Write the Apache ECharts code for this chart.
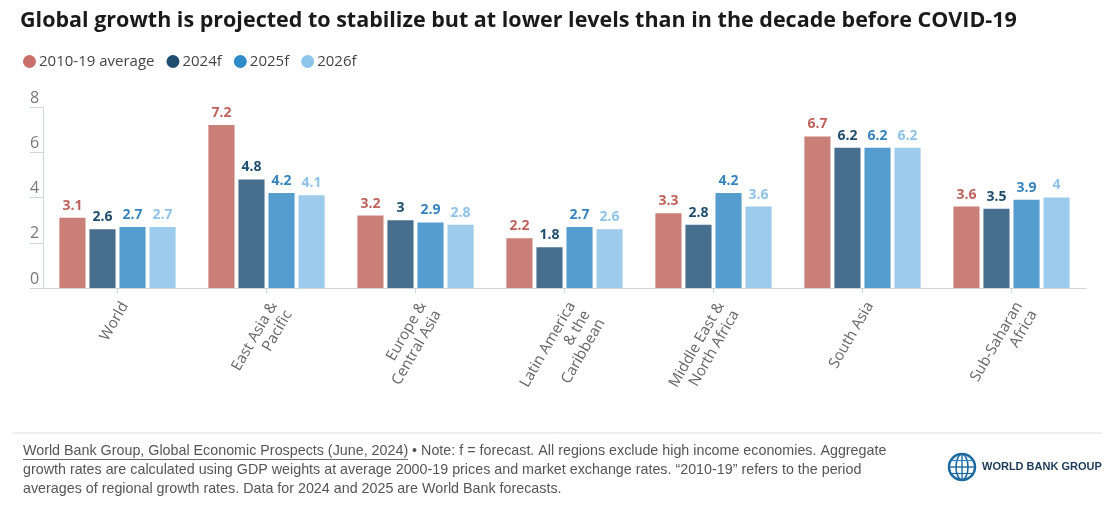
<!DOCTYPE html>
<html>
<head>
<meta charset="utf-8">
<script src="https://cdn.jsdelivr.net/npm/echarts@6/dist/echarts.min.js"></script>
<style>
html,body{margin:0;padding:0;background:#fff;}
#chart{width:1119px;height:526px;}
</style>
</head>
<body>
<div id="chart"></div>
<script>
const categories = ['World', 'East Asia &\nPacific', 'Europe &\nCentral Asia', 'Latin America\n& the\nCaribbean', 'Middle East &\nNorth Africa', 'South Asia', 'Sub-Saharan\nAfrica'];
const seriesNames = ['2010-19 average', '2024f', '2025f', '2026f'];
const avg2010_19 = [3.1, 7.2, 3.2, 2.2, 3.3, 6.7, 3.6];
const f2024 = [2.6, 4.8, 3.0, 1.8, 2.8, 6.2, 3.5];
const f2025 = [2.7, 4.2, 2.9, 2.7, 4.2, 6.2, 3.9];
const f2026 = [2.7, 4.1, 2.8, 2.6, 3.6, 6.2, 4.0];
const yTicks = [0, 2, 4, 6, 8];

const titleText = 'Global growth is projected to stabilize but at lower levels than in the decade before COVID-19';
const sourceText = 'World Bank Group, Global Economic Prospects (June, 2024)';
const noteLines = [
  ' \u2022 Note: f = forecast. All regions exclude high income economies. Aggregate',
  'growth rates are calculated using GDP weights at average 2000-19 prices and market exchange rates. \u201c2010-19\u201d refers to the period',
  'averages of regional growth rates. Data for 2024 and 2025 are World Bank forecasts.'
];

const barColors = ['#c97e77', '#476e8c', '#559dcf', '#9dcbec'];
const labelColors = ['#c0625c', '#1f4e6e', '#3584bd', '#8fc3e8'];
const legendColors = ['#c9706a', '#1f4e70', '#2f8ac8', '#8cc4ea'];
const allData = [avg2010_19, f2024, f2025, f2026];

const footFont = '14.3px "Liberation Sans"';
function textWidth(t, font) {
  const c = document.createElement('canvas').getContext('2d');
  c.font = font;
  return c.measureText(t).width;
}
const srcW = textWidth(sourceText, footFont);

const chart = echarts.init(document.getElementById('chart'), null, {renderer: 'canvas'});
const option = {
  backgroundColor: '#fff',
  animation: false,
  textStyle: {fontFamily: '"Open Sans", sans-serif'},
  title: {
    text: titleText,
    left: 15, top: 5,
    textStyle: {fontSize: 21.5, fontWeight: 'bold', color: '#1a1a1a', fontFamily: '"Open Sans"'}
  },
  legend: {
    left: 18, top: 49,
    icon: 'circle',
    itemWidth: 13, itemHeight: 13,
    itemGap: 12,
    data: seriesNames.map((n, i) => ({name: n, itemStyle: {color: legendColors[i]}})),
    textStyle: {fontSize: 15, color: '#444', padding: [0, 0, 0, -2]}
  },
  grid: {left: 43, right: 33, top: 107, bottom: 238, containLabel: false},
  xAxis: {
    type: 'category',
    data: categories,
    axisLine: {lineStyle: {color: '#ccd6dd'}},
    axisTick: {show: true, alignWithLabel: true, length: 5, lineStyle: {color: '#ccd6dd'}},
    axisLabel: {interval: 0, rotate: 60, fontSize: 15, color: '#666', margin: 11, lineHeight: 17, verticalAlign: 'top'}
  },
  yAxis: {
    type: 'value',
    min: yTicks[0], max: yTicks[yTicks.length - 1], interval: 2,
    axisLine: {show: true, lineStyle: {color: '#ccd6dd'}},
    axisTick: {show: true, length: 13, lineStyle: {color: '#ccd6dd'}},
    splitLine: {show: false},
    axisLabel: {align: 'left', margin: 13, verticalAlign: 'bottom', fontSize: 16, color: '#777', padding: [0, 0, 1, 0]}
  },
  series: seriesNames.map((n, i) => ({
    name: n,
    type: 'bar',
    data: allData[i],
    barGap: '15%',
    barCategoryGap: '22%',
    itemStyle: {color: barColors[i]},
    label: {show: true, position: 'top', distance: 5, fontSize: 14, fontWeight: 'bold', color: labelColors[i]}
  })),
  graphic: [
    {type: 'line', shape: {x1: 13, y1: 433, x2: 1102, y2: 433}, style: {stroke: '#ddd', lineWidth: 1}},
    {type: 'text', x: 23, y: 451, style: {text: sourceText, font: footFont, fill: '#555', verticalAlign: 'middle'}},
    {type: 'line', shape: {x1: 23, y1: 459.5, x2: 23 + srcW, y2: 459.5}, style: {stroke: '#666', lineWidth: 1}},
    {type: 'text', x: 23 + srcW, y: 451, style: {text: noteLines[0], font: footFont, fill: '#555', verticalAlign: 'middle'}},
    {type: 'text', x: 23, y: 470, style: {text: noteLines[1], font: footFont, fill: '#555', verticalAlign: 'middle'}},
    {type: 'text', x: 23, y: 489, style: {text: noteLines[2], font: footFont, fill: '#555', verticalAlign: 'middle'}},
    {type: 'group', x: 962, y: 467, children: [
      {type: 'circle', shape: {cx: 0, cy: 0, r: 13}, style: {fill: 'none', stroke: '#1d6aa0', lineWidth: 2.5}},
      {type: 'ellipse', shape: {cx: 0, cy: 0, rx: 6, ry: 13}, style: {fill: 'none', stroke: '#1d6aa0', lineWidth: 1.6}},
      {type: 'line', shape: {x1: 0, y1: -13, x2: 0, y2: 13}, style: {stroke: '#1d6aa0', lineWidth: 1.4}},
      {type: 'line', shape: {x1: -13, y1: 0, x2: 13, y2: 0}, style: {stroke: '#1d6aa0', lineWidth: 1.4}},
      {type: 'line', shape: {x1: -11, y1: -6.5, x2: 11, y2: -6.5}, style: {stroke: '#2a86c4', lineWidth: 1.2}},
      {type: 'line', shape: {x1: -11, y1: 6.5, x2: 11, y2: 6.5}, style: {stroke: '#1d6aa0', lineWidth: 1.2}}
    ]},
    {type: 'text', x: 982, y: 467, style: {text: 'WORLD BANK GROUP', font: 'bold 11px "Liberation Sans"', fill: '#1b3a57', verticalAlign: 'middle'}}
  ]
};
chart.setOption(option);
</script>
</body>
</html>
